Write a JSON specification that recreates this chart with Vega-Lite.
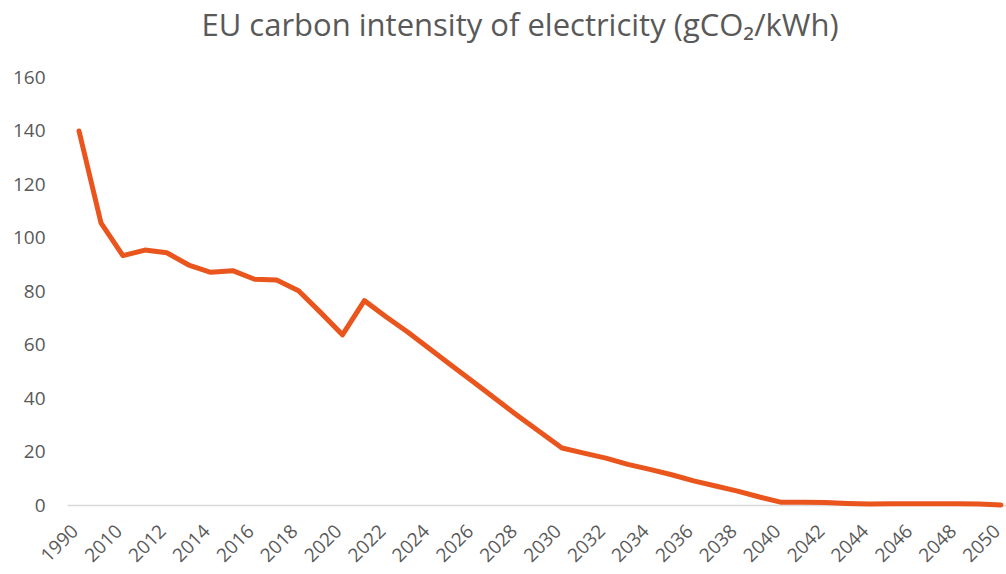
{
  "$schema": "https://vega.github.io/schema/vega-lite/v6.json",
  "autosize": "none",
  "width": 946,
  "height": 428,
  "padding": {"left": 67, "top": 77, "right": 0, "bottom": 69},
  "background": "white",
  "title": {
    "text": "EU carbon intensity of electricity (gCO₂/kWh)",
    "font": "Open Sans",
    "fontSize": 31,
    "fontWeight": "normal",
    "color": "#595959",
    "baseline": "alphabetic",
    "offset": 1,
    "dx": -20
  },
  "data": {
    "values": [
      {"year": "1990", "value": 139.8},
      {"year": "2000", "value": 105.5},
      {"year": "2010", "value": 93.2},
      {"year": "2011", "value": 95.3},
      {"year": "2012", "value": 94.3},
      {"year": "2013", "value": 89.7},
      {"year": "2014", "value": 87.0},
      {"year": "2015", "value": 87.6},
      {"year": "2016", "value": 84.4},
      {"year": "2017", "value": 84.1},
      {"year": "2018", "value": 80.1},
      {"year": "2019", "value": 72.0},
      {"year": "2020", "value": 63.6},
      {"year": "2021", "value": 76.4},
      {"year": "2022", "value": 70.3},
      {"year": "2023", "value": 64.5},
      {"year": "2024", "value": 58.2},
      {"year": "2025", "value": 52.0},
      {"year": "2026", "value": 45.8},
      {"year": "2027", "value": 39.5},
      {"year": "2028", "value": 33.3},
      {"year": "2029", "value": 27.3},
      {"year": "2030", "value": 21.3},
      {"year": "2031", "value": 19.4},
      {"year": "2032", "value": 17.5},
      {"year": "2033", "value": 15.2},
      {"year": "2034", "value": 13.3},
      {"year": "2035", "value": 11.3},
      {"year": "2036", "value": 9.0},
      {"year": "2037", "value": 7.1},
      {"year": "2038", "value": 5.2},
      {"year": "2039", "value": 3.0},
      {"year": "2040", "value": 1.0},
      {"year": "2041", "value": 1.0},
      {"year": "2042", "value": 0.9},
      {"year": "2043", "value": 0.6},
      {"year": "2044", "value": 0.4},
      {"year": "2045", "value": 0.5},
      {"year": "2046", "value": 0.5},
      {"year": "2047", "value": 0.5},
      {"year": "2048", "value": 0.5},
      {"year": "2049", "value": 0.4},
      {"year": "2050", "value": 0.0}
    ]
  },
  "mark": {"type": "line", "color": "#E9551C", "strokeWidth": 5, "strokeJoin": "round", "strokeCap": "round"},
  "encoding": {
    "x": {
      "field": "year",
      "type": "ordinal",
      "sort": null,
      "scale": {"type": "point", "padding": 0.547},
      "axis": {
        "title": null,
        "values": ["1990","2010","2012","2014","2016","2018","2020","2022","2024","2026","2028","2030","2032","2034","2036","2038","2040","2042","2044","2046","2048","2050"],
        "labelAngle": -45,
        "labelAlign": "right",
        "labelBaseline": "alphabetic",
        "labelFont": "Open Sans",
        "labelFontSize": 19,
        "labelColor": "#595959",
        "labelPadding": 27,
        "labelOverlap": false,
        "labelBound": false,
        "ticks": false,
        "domainColor": "#d9d9d9",
        "domainWidth": 1.5,
        "grid": false
      }
    },
    "y": {
      "field": "value",
      "type": "quantitative",
      "scale": {"domain": [0, 160], "nice": false},
      "axis": {
        "title": null,
        "values": [0, 20, 40, 60, 80, 100, 120, 140, 160],
        "labelFont": "Open Sans",
        "labelFontSize": 19,
        "labelColor": "#595959",
        "labelPadding": 22,
        "ticks": false,
        "domain": false,
        "grid": false
      }
    }
  },
  "config": {"view": {"stroke": null}}
}
